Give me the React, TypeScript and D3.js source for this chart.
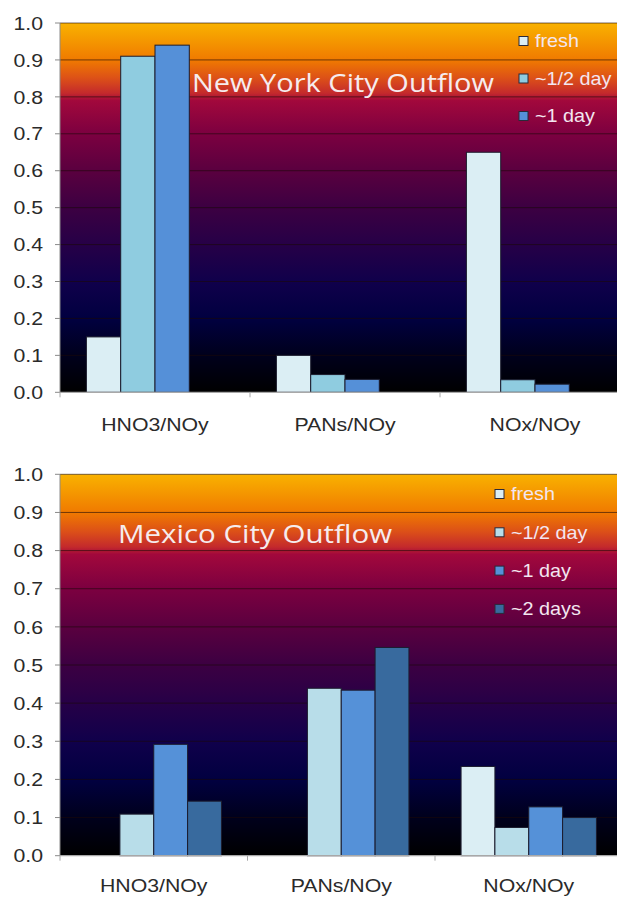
import React from "react";
import * as d3 from "d3";

const categories = ["HNO3/NOy", "PANs/NOy", "NOx/NOy"];
const seriesNames = ["fresh", "~1/2 day", "~1 day", "~2 days"];
const yTicks = [0, 0.1, 0.2, 0.3, 0.4, 0.5, 0.6, 0.7, 0.8, 0.9, 1.0];

// New York City outflow (no ~2 days series)
const nycFresh = [0.15, 0.1, 0.65];
const nycHalfDay = [0.91, 0.048, 0.034];
const nycOneDay = [0.94, 0.035, 0.022];

// Mexico City outflow
const mexFresh = [null, null, 0.234];
const mexHalfDay = [0.109, 0.439, 0.074];
const mexOneDay = [0.292, 0.434, 0.128];
const mexTwoDays = [0.143, 0.546, 0.1];

type Panel = {
  title: string;
  titleX: number;
  titleY: number;
  titleLen: number;
  top: number;
  bottom: number;
  catW: number;
  labelY: number;
  series: (number | null)[][];
  colors: string[];
  legendX: number;
  legendY: number;
  legendStep: number;
  legendCount: number;
  gid: string;
};

const LEFT = 60;

const panels: Panel[] = [
  {
    title: "New York City Outflow",
    titleX: 192,
    titleY: 92,
    titleLen: 302,
    top: 23,
    bottom: 392.3,
    catW: 190,
    labelY: 431,
    series: [nycFresh, nycHalfDay, nycOneDay, [null, null, null]],
    colors: ["#dbeef4", "#8fcce0", "#5590d8", "#386a9e"],
    legendX: 519,
    legendY: 41,
    legendStep: 37.5,
    legendCount: 3,
    gid: "bgNyc",
  },
  {
    title: "Mexico City Outflow",
    titleX: 118,
    titleY: 543,
    titleLen: 274,
    top: 474.3,
    bottom: 855.7,
    catW: 187.5,
    labelY: 892,
    series: [mexFresh, mexHalfDay, mexOneDay, mexTwoDays],
    colors: ["#dbeef4", "#b8dde9", "#5591d8", "#386a9e"],
    legendX: 495,
    legendY: 494,
    legendStep: 38.3,
    legendCount: 4,
    gid: "bgMex",
  },
];

const gradStops: [number, string][] = [
  [0, "#f9b200"],
  [0.1, "#f07a00"],
  [0.15, "#dc5018"],
  [0.19, "#c42a2c"],
  [0.21, "#a2083c"],
  [0.3, "#7c0040"],
  [0.4, "#5a003f"],
  [0.5, "#3c0042"],
  [0.6, "#260047"],
  [0.7, "#10004b"],
  [0.8, "#010040"],
  [0.9, "#00001c"],
  [1, "#000000"],
];

const tickFont = "'Liberation Sans', Arial, sans-serif";

function ChartPanel({ p }: { p: Panel }) {
  const right = LEFT + p.catW * categories.length;
  const y = d3.scaleLinear().domain([0, 1]).range([p.bottom, p.top]);
  const x0 = d3.scaleBand<string>().domain(categories).range([LEFT, right]).padding(0);
  const x1 = d3
    .scaleBand<string>()
    .domain(seriesNames)
    .range([0, x0.bandwidth()])
    .paddingInner(0)
    .paddingOuter(0.77);

  return (
    <g>
      <defs>
        <linearGradient id={p.gid} x1="0" y1="0" x2="0" y2="1">
          {gradStops.map(([o, c]) => (
            <stop key={o} offset={o} stopColor={c} />
          ))}
        </linearGradient>
      </defs>
      <rect x={LEFT} y={p.top} width={right - LEFT} height={p.bottom - p.top} fill={`url(#${p.gid})`} />
      {yTicks.slice(1).map((t) => (
        <line key={t} x1={LEFT} x2={right} y1={y(t)} y2={y(t)} stroke="#1a0808" strokeOpacity={0.6} strokeWidth={1} />
      ))}
      {/* left axis */}
      <line x1={LEFT} x2={LEFT} y1={p.top} y2={p.bottom} stroke="#8a8a8a" strokeWidth={1} />
      {yTicks.map((t) => (
        <g key={t}>
          <line x1={LEFT - 5} x2={LEFT} y1={y(t)} y2={y(t)} stroke="#8a8a8a" strokeWidth={1} />
          <text
            transform={`translate(43,${y(t)}) scale(1.15,1)`}
            dy="0.36em"
            textAnchor="end"
            fontFamily={tickFont}
            fontSize={18.5}
            fill="#2a2a2a"
          >
            {t.toFixed(1)}
          </text>
        </g>
      ))}
      {/* bars */}
      {categories.map((c, ci) =>
        seriesNames.map((s, si) => {
          const v = p.series[si][ci];
          if (v == null) return null;
          return (
            <rect
              key={c + s}
              x={(x0(c) ?? 0) + (x1(s) ?? 0)}
              y={y(v)}
              width={x1.bandwidth()}
              height={y(0) - y(v)}
              fill={p.colors[si]}
              stroke="#1c1c2e"
              strokeWidth={1}
            />
          );
        })
      )}
      {/* bottom axis */}
      <line x1={LEFT} x2={right} y1={p.bottom} y2={p.bottom} stroke="#a8a8a8" strokeWidth={1.2} />
      {[...categories.map((c) => x0(c) ?? 0), right].map((xv, i) => (
        <line key={i} x1={xv} x2={xv} y1={p.bottom} y2={p.bottom + 5} stroke="#a8a8a8" strokeWidth={1} />
      ))}
      {categories.map((c) => (
        <text
          key={c}
          transform={`translate(${(x0(c) ?? 0) + x0.bandwidth() / 2},${p.labelY}) scale(1.15,1)`}
          textAnchor="middle"
          fontFamily={tickFont}
          fontSize={18.5}
          fill="#2a2a2a"
        >
          {c}
        </text>
      ))}
      {/* title */}
      <text
        x={p.titleX}
        y={p.titleY}
        textLength={p.titleLen}
        lengthAdjust="spacingAndGlyphs"
        fontFamily="'Open Sans', 'Noto Sans', sans-serif"
        fontSize={26}
        fill="#f6ecee"
      >
        {p.title}
      </text>
      {/* legend */}
      {seriesNames.slice(0, p.legendCount).map((s, i) => {
        const cy = p.legendY + i * p.legendStep;
        return (
          <g key={s}>
            <rect x={p.legendX} y={cy - 4.5} width={9} height={9} fill={p.colors[i]} stroke="#2a2a3a" strokeWidth={1} />
            <text
              transform={`translate(${p.legendX + 16},${cy}) scale(1.1,1)`}
              dy="0.36em"
              fontFamily={tickFont}
              fontSize={18}
              fill="#f3e6f0"
            >
              {s}
            </text>
          </g>
        );
      })}
    </g>
  );
}

export default function App() {
  return (
    <svg
      width={617}
      height={897}
      viewBox="0 0 617 897"
      style={{ position: "absolute", left: 0, top: 0, background: "#ffffff" }}
    >
      <rect width={617} height={897} fill="#ffffff" />
      {panels.map((p) => (
        <ChartPanel key={p.gid} p={p} />
      ))}
    </svg>
  );
}
